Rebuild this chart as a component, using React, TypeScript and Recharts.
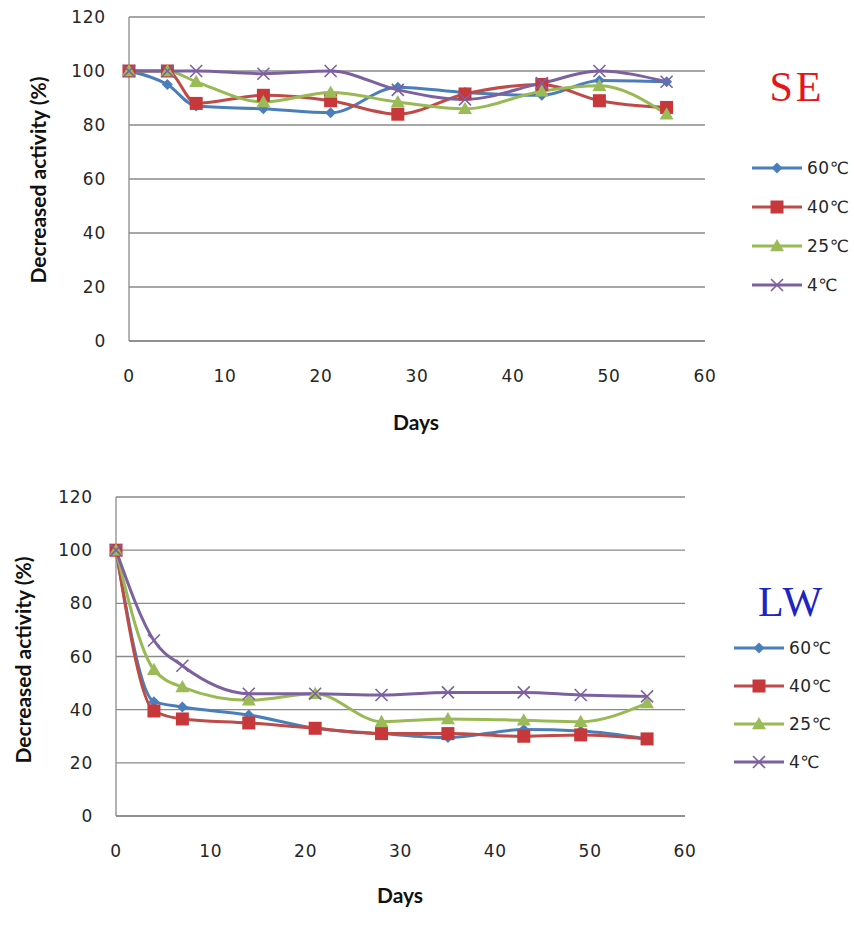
import React from "react"
import { LineChart, Line, XAxis, YAxis, CartesianGrid } from "recharts"

// sampling days (same for both panels)
const days = [0, 4, 7, 14, 21, 28, 35, 43, 49, 56]

// SE panel (% remaining activity)
const se60 = [100, 95, 87, 86, 84.5, 94, 92, 91, 96.5, 96]
const se40 = [100, 100, 88, 91, 89, 84, 91.5, 95, 89, 86.5]
const se25 = [100, 100, 96, 88.5, 92, 88.5, 86, 92.5, 94.5, 84]
const se4 = [100, 100, 100, 99, 100, 93, 89.5, 95.5, 100, 96]

// LW panel
const lw60 = [100, 43, 41, 38, 33, 31, 29.5, 32.5, 32, 29]
const lw40 = [100, 39.5, 36.5, 35, 33, 31, 31, 30, 30.5, 29]
const lw25 = [100, 55, 48.5, 43.5, 46, 35.5, 36.5, 36, 35.5, 42.5]
const lw4 = [100, 66, 56.5, 46, 46, 45.5, 46.5, 46.5, 45.5, 45]

const seriesNames = ["60℃", "40℃", "25℃", "4℃"]
const xTicks = [0, 10, 20, 30, 40, 50, 60]
const yTicks = [0, 20, 40, 60, 80, 100, 120]

const colors = ["#4a7ebb", "#be4b48", "#98b954", "#7d60a0"]
const markColors = ["#4a7ebb", "#c8383a", "#9bbb59", "#7d60a0"]
const keys = ["t60", "t40", "t25", "t4"]

const buildRows = (a: number[], b: number[], c: number[], d: number[]) =>
  days.map((day, i) => ({ day, t60: a[i], t40: b[i], t25: c[i], t4: d[i] }))

const seRows = buildRows(se60, se40, se25, se4)
const lwRows = buildRows(lw60, lw40, lw25, lw4)

const tickFont = { fontFamily: "DejaVu Sans", fontSize: 17, fill: "#262626", letterSpacing: 0.8 }
const tickFontCss: React.CSSProperties = { fontFamily: "DejaVu Sans", fontSize: 17, color: "#262626", letterSpacing: 0.5 }

function Marker({ kind, cx, cy }: { kind: number; cx: number; cy: number }) {
  const c = markColors[kind]
  if (kind === 0) {
    const r = 5.5
    return <path d={`M${cx},${cy - r}L${cx + r},${cy}L${cx},${cy + r}L${cx - r},${cy}Z`} fill={c} />
  }
  if (kind === 1) {
    return <rect x={cx - 6.5} y={cy - 6.5} width={13} height={13} fill={c} />
  }
  if (kind === 2) {
    const r = 7
    return <path d={`M${cx},${cy - r}L${cx + r},${cy + r * 0.75}L${cx - r},${cy + r * 0.75}Z`} fill={c} />
  }
  const r = 6
  return (
    <path
      d={`M${cx - r},${cy - r}L${cx + r},${cy + r}M${cx - r},${cy + r}L${cx + r},${cy - r}`}
      stroke={c}
      strokeWidth={1.6}
      fill="none"
    />
  )
}

const dotFor = (kind: number) => (props: any) => (
  <Marker key={`${kind}-${props.index}`} kind={kind} cx={props.cx} cy={props.cy} />
)

function SideLegend({ left, top, gap }: { left: number; top: number; gap: number }) {
  return (
    <div style={{ position: "absolute", left, top }}>
      {seriesNames.map((name, i) => (
        <div key={name} style={{ position: "absolute", top: i * gap, left: 0, display: "flex", alignItems: "center", height: 20, marginTop: -10 }}>
          <svg width={52} height={20}>
            <line x1={1} y1={10} x2={51} y2={10} stroke={colors[i]} strokeWidth={3} />
            <Marker kind={i} cx={26} cy={10} />
          </svg>
          <span style={{ ...tickFontCss, marginLeft: 4, whiteSpace: "nowrap" }}>{name}</span>
        </div>
      ))}
    </div>
  )
}

const axisTitle: React.CSSProperties = {
  position: "absolute",
  fontFamily: "Lato, 'Open Sans', sans-serif",
  fontWeight: 700,
  fontSize: 21,
  color: "#111",
  whiteSpace: "nowrap",
}

function Panel({ rows, top, height, plotLeft, plotRight, plotTop, plotBottom }: any) {
  return (
    <div style={{ position: "absolute", left: 0, top }}>
      <LineChart
        width={854}
        height={height}
        data={rows}
        margin={{ top: plotTop, right: 854 - plotRight, left: 0, bottom: 0 }}
      >
        <CartesianGrid horizontal vertical={false} stroke="#8a8a8a" strokeWidth={1.3} />
        <XAxis
          dataKey="day"
          type="number"
          domain={[0, 60]}
          ticks={xTicks}
          height={height - plotBottom}
          tickSize={0}
          tickMargin={29}
          tick={tickFont}
          axisLine={{ stroke: "#8a8a8a", strokeWidth: 1.3 }}
          tickLine={false}
          interval={0}
        />
        <YAxis
          type="number"
          domain={[0, 120]}
          ticks={yTicks}
          width={plotLeft}
          tickSize={0}
          tickMargin={23}
          tick={tickFont}
          axisLine={{ stroke: "#8a8a8a", strokeWidth: 1.3 }}
          tickLine={false}
          interval={0}
        />
        {keys.map((k, i) => (
          <Line
            key={k}
            dataKey={k}
            type="monotone"
            stroke={colors[i]}
            strokeWidth={3}
            dot={dotFor(i)}
            activeDot={false}
            isAnimationActive={false}
          />
        ))}
      </LineChart>
    </div>
  )
}

export default function App() {
  return (
    <div style={{ position: "absolute", left: 0, top: 0, width: 854, height: 926, background: "#fff", overflow: "hidden" }}>
      <Panel rows={seRows} top={0} height={440} plotLeft={129} plotRight={705} plotTop={17} plotBottom={341} />
      <Panel rows={lwRows} top={480} height={446} plotLeft={116} plotRight={685} plotTop={17} plotBottom={336} />

      <div style={{ ...axisTitle, left: 37, top: 180, transform: "translate(-50%, -50%) rotate(-90deg)" }}>
        Decreased activity (%)
      </div>
      <div style={{ ...axisTitle, left: 416, top: 421, transform: "translate(-50%, -50%)" }}>Days</div>
      <div style={{ ...axisTitle, left: 22, top: 660, transform: "translate(-50%, -50%) rotate(-90deg)" }}>
        Decreased activity (%)
      </div>
      <div style={{ ...axisTitle, left: 400, top: 894, transform: "translate(-50%, -50%)" }}>Days</div>

      <div style={{ position: "absolute", left: 797, top: 87, transform: "translate(-50%, -50%)", fontFamily: "'Liberation Serif', serif", fontSize: 42, letterSpacing: 3, color: "#e8141b" }}>
        SE
      </div>
      <div style={{ position: "absolute", left: 791, top: 602, transform: "translate(-50%, -50%)", fontFamily: "'Liberation Serif', serif", fontSize: 42, letterSpacing: 2, color: "#1c25c0" }}>
        LW
      </div>

      <SideLegend left={751} top={168} gap={39} />
      <SideLegend left={733} top={648} gap={38} />
    </div>
  )
}
